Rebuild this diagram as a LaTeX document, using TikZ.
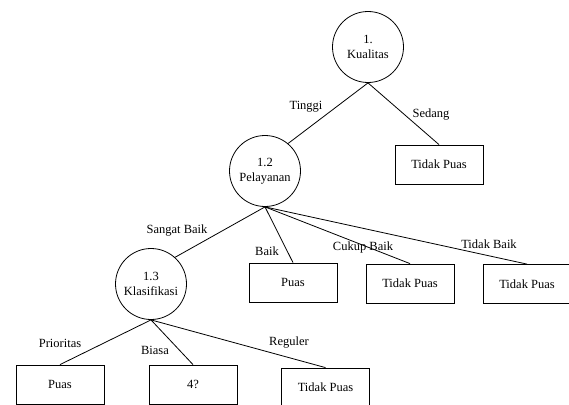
\documentclass[tikz,border=0pt]{standalone}
\usepackage{fontspec}
\setmainfont{Liberation Serif}
\usetikzlibrary{positioning}
\tikzset{
  kpx/.style={x=1pt, y=-1pt, font=\fontsize{12.5}{15.5}\selectfont, line width=0.8pt},
  k dec/.style={draw, circle, minimum size=71pt, inner sep=0pt, align=center},
  k leaf/.style={draw, rectangle, minimum width=88pt, minimum height=39pt, inner sep=1pt},
  k lab/.style={inner sep=0pt},
  k edge/.style={line width=0.8pt},
}
\begin{document}
\begin{tikzpicture}[kpx]
\useasboundingbox (0, 0) rectangle (569, 404);
\clip (0, 0) rectangle (569, 404);
% ---- root ----
\node[k dec]  (kual) at (368, 47) {1.\\Kualitas};
\node[k dec]  (pel)  at (265, 171) {1.2\\Pelayanan};
\node[k leaf] (tpA)  at (439, 164.5) {Tidak Puas};
\draw[k edge] (kual.south) -- (pel.50);  \node[k lab] at (306, 107) {Tinggi};
\draw[k edge] (kual.south) -- (tpA.north); \node[k lab] at (431, 115) {Sedang};
% ---- pelayanan ----
\node[k dec]  (klas) at (151, 284) {1.3\\Klasifikasi};
\node[k leaf] (psA)  at (293, 282.5) {Puas};
\node[k leaf] (tpB)  at (410, 283.5) {Tidak Puas};
\node[k leaf] (tpC)  at (527, 284) {Tidak Puas};
\draw[k edge] (pel.south) -- (klas.48);  \node[k lab] at (177, 231) {Sangat Baik};
\draw[k edge] (pel.south) -- (psA.north); \node[k lab] at (267, 251) {Baik};
\draw[k edge] (pel.south) -- (tpB.north); \node[k lab] at (363, 247) {Cukup Baik};
\draw[k edge] (pel.south) -- (tpC.north); \node[k lab] at (489, 244) {Tidak Baik};
% ---- klasifikasi ----
\node[k leaf] (psB)  at (60, 384.5) {Puas};
\node[k leaf] (unk)  at (193, 384.5) {4?};
\node[k leaf] (tpD)  at (325.5, 387.5) {Tidak Puas};
\draw[k edge] (klas.south) -- (psB.north); \node[k lab] at (60, 343) {Prioritas};
\draw[k edge] (klas.south) -- (unk.north); \node[k lab] at (155, 350) {Biasa};
\draw[k edge] (klas.south) -- (tpD.north); \node[k lab] at (289, 343) {Reguler};
\end{tikzpicture}
\end{document}
